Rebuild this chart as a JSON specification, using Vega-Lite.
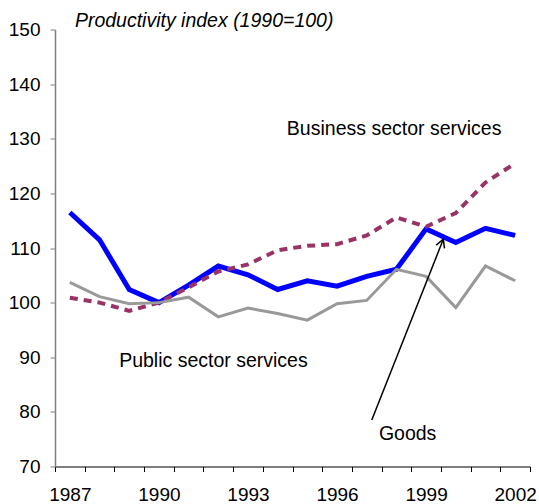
{
  "$schema": "https://vega.github.io/schema/vega-lite/v6.json",
  "width": 475,
  "height": 437,
  "autosize": "none",
  "padding": {"left": 55, "top": 29.5, "right": 9, "bottom": 37.5},
  "config": {"view": {"stroke": null}, "font": "Liberation Sans"},
  "datasets": {
    "series": [
      {"year": 1987, "series": "Goods", "value": 116.5},
      {"year": 1988, "series": "Goods", "value": 111.5},
      {"year": 1989, "series": "Goods", "value": 102.4},
      {"year": 1990, "series": "Goods", "value": 100.0},
      {"year": 1991, "series": "Goods", "value": 103.2},
      {"year": 1992, "series": "Goods", "value": 106.7},
      {"year": 1993, "series": "Goods", "value": 105.1},
      {"year": 1994, "series": "Goods", "value": 102.4},
      {"year": 1995, "series": "Goods", "value": 104.0},
      {"year": 1996, "series": "Goods", "value": 103.0},
      {"year": 1997, "series": "Goods", "value": 104.8},
      {"year": 1998, "series": "Goods", "value": 106.1},
      {"year": 1999, "series": "Goods", "value": 113.5},
      {"year": 2000, "series": "Goods", "value": 111.0},
      {"year": 2001, "series": "Goods", "value": 113.6},
      {"year": 2002, "series": "Goods", "value": 112.3},
      {"year": 1987, "series": "Business", "value": 100.9},
      {"year": 1988, "series": "Business", "value": 100.0},
      {"year": 1989, "series": "Business", "value": 98.5},
      {"year": 1990, "series": "Business", "value": 100.0},
      {"year": 1991, "series": "Business", "value": 102.8},
      {"year": 1992, "series": "Business", "value": 105.7},
      {"year": 1993, "series": "Business", "value": 107.0},
      {"year": 1994, "series": "Business", "value": 109.6},
      {"year": 1995, "series": "Business", "value": 110.4},
      {"year": 1996, "series": "Business", "value": 110.7},
      {"year": 1997, "series": "Business", "value": 112.3},
      {"year": 1998, "series": "Business", "value": 115.6},
      {"year": 1999, "series": "Business", "value": 113.9},
      {"year": 2000, "series": "Business", "value": 116.4},
      {"year": 2001, "series": "Business", "value": 122.0},
      {"year": 2002, "series": "Business", "value": 125.5},
      {"year": 1987, "series": "Public", "value": 103.7},
      {"year": 1988, "series": "Public", "value": 101.1},
      {"year": 1989, "series": "Public", "value": 99.8},
      {"year": 1990, "series": "Public", "value": 100.0},
      {"year": 1991, "series": "Public", "value": 101.0},
      {"year": 1992, "series": "Public", "value": 97.4},
      {"year": 1993, "series": "Public", "value": 99.0},
      {"year": 1994, "series": "Public", "value": 98.0},
      {"year": 1995, "series": "Public", "value": 96.8},
      {"year": 1996, "series": "Public", "value": 99.8},
      {"year": 1997, "series": "Public", "value": 100.4},
      {"year": 1998, "series": "Public", "value": 106.1},
      {"year": 1999, "series": "Public", "value": 104.8},
      {"year": 2000, "series": "Public", "value": 99.1},
      {"year": 2001, "series": "Public", "value": 106.7},
      {"year": 2002, "series": "Public", "value": 104.0}
    ],
    "notes": [
      {"label": "Business sector services", "x": 1994.31, "value": 130.7},
      {"label": "Public sector services", "x": 1988.66, "value": 88.3},
      {"label": "Goods", "x": 1997.41, "value": 74.8}
    ],
    "heading": [
      {"label": "Productivity index (1990=100)", "x": 1987.17, "value": 150.4}
    ],
    "arrow": [
      {"x": 1997.17, "y": 78.5, "x2": 1999.58, "y2": 111.6}
    ]
  },
  "resolve": {"scale": {"x": "independent"}},
  "layer": [
    {
      "data": {"name": "series"},
      "encoding": {
        "x": {
          "field": "year",
          "type": "ordinal",
          "bandPosition": 0.5,
          "scale": {"type": "band", "paddingInner": 0, "paddingOuter": 0},
          "axis": {
            "title": null,
            "labelAngle": 0,
            "tickBand": "extent",
            "labelExpr": "(toNumber(datum.value) - 1987) % 3 === 0 ? datum.label : ''",
            "labelFontSize": 19,
            "labelColor": "#000000",
            "labelPadding": 14,
            "tickSize": 5,
            "tickColor": "#000000",
            "domainColor": "#000000",
            "domainWidth": 1,
            "grid": false
          }
        },
        "y": {
          "field": "value",
          "type": "quantitative",
          "title": null,
          "scale": {"domain": [70, 150], "nice": false, "zero": false},
          "axis": {
            "title": null,
            "values": [70, 80, 90, 100, 110, 120, 130, 140, 150],
            "labelFontSize": 19,
            "labelColor": "#000000",
            "labelPadding": 10,
            "tickSize": 5,
            "tickColor": "#808080",
            "domainColor": "#808080",
            "domainWidth": 1.5,
            "grid": false
          }
        }
      },
      "layer": [
        {
          "transform": [{"filter": "datum.series === 'Goods'"}],
          "mark": {"type": "line", "color": "#0000ff", "strokeWidth": 5}
        },
        {
          "transform": [{"filter": "datum.series === 'Business'"}],
          "mark": {"type": "line", "color": "#993366", "strokeWidth": 4, "strokeDash": [8, 6]}
        },
        {
          "transform": [{"filter": "datum.series === 'Public'"}],
          "mark": {"type": "line", "color": "#999999", "strokeWidth": 3}
        }
      ]
    },
    {
      "data": {"name": "notes"},
      "mark": {"type": "text", "align": "left", "baseline": "alphabetic", "fontSize": 19.5, "color": "#000000"},
      "encoding": {
        "x": {"field": "x", "type": "quantitative", "scale": {"domain": [1986.5, 2002.5], "nice": false, "zero": false}, "axis": null},
        "y": {"field": "value", "type": "quantitative", "title": null},
        "text": {"field": "label"}
      }
    },
    {
      "data": {"name": "heading"},
      "mark": {"type": "text", "align": "left", "baseline": "alphabetic", "fontSize": 19.5, "fontStyle": "italic", "color": "#000000"},
      "encoding": {
        "x": {"field": "x", "type": "quantitative", "scale": {"domain": [1986.5, 2002.5], "nice": false, "zero": false}, "axis": null},
        "y": {"field": "value", "type": "quantitative", "title": null},
        "text": {"field": "label"}
      }
    },
    {
      "data": {"name": "arrow"},
      "mark": {"type": "rule", "color": "#000000", "strokeWidth": 1.5},
      "encoding": {
        "x": {"field": "x", "type": "quantitative", "scale": {"domain": [1986.5, 2002.5], "nice": false, "zero": false}, "axis": null},
        "y": {"field": "y", "type": "quantitative", "title": null},
        "x2": {"field": "x2"},
        "y2": {"field": "y2"}
      }
    },
    {
      "data": {"name": "arrow"},
      "mark": {"type": "point", "shape": "M-1.1,2L0,0L1.1,2", "filled": false, "stroke": "#000000", "strokeWidth": 1.5, "size": 64, "angle": 21.6, "opacity": 1},
      "encoding": {
        "x": {"field": "x2", "type": "quantitative", "scale": {"domain": [1986.5, 2002.5], "nice": false, "zero": false}, "axis": null},
        "y": {"field": "y2", "type": "quantitative", "title": null}
      }
    }
  ]
}
